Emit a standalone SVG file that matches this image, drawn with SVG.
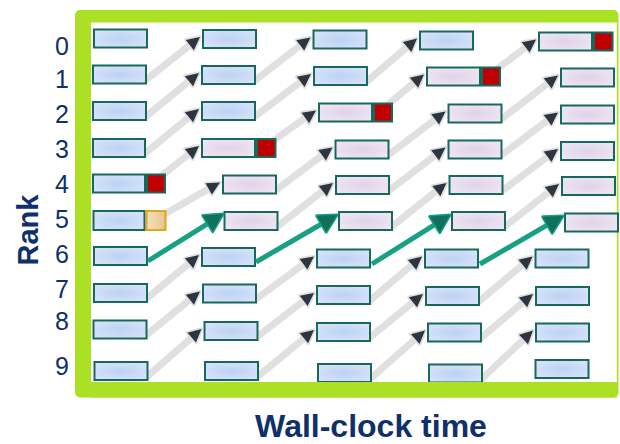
<svg xmlns="http://www.w3.org/2000/svg" width="620" height="444" viewBox="0 0 620 444">
<style>
.bl{fill:url(#gb);stroke:#17695c;stroke-width:2}
.pk{fill:url(#gp);stroke:#17695c;stroke-width:2}
.rd{fill:#c00000;stroke:#17695c;stroke-width:2}
.or{fill:url(#go);stroke:#e2a61a;stroke-width:2}
.g{fill:none;stroke:#e0e0e0;stroke-width:7;stroke-dasharray:86 100;marker-end:url(#ga)}
.t{fill:none;stroke:#17a084;stroke-width:5;stroke-dasharray:84 100;marker-end:url(#ta)}
.rk{font-family:"Liberation Sans",Arial,sans-serif;font-size:25px;fill:#10306b;text-anchor:middle}
.lb{font-family:"Liberation Sans",Arial,sans-serif;font-weight:bold;fill:#10306b;text-anchor:middle}
</style>
<defs>
<radialGradient id="gb" cx="0.5" cy="0.5" r="0.6"><stop offset="0" stop-color="#bcd3f2"/><stop offset="1" stop-color="#d7e2fb"/></radialGradient>
<radialGradient id="gp" cx="0.5" cy="0.5" r="0.6"><stop offset="0" stop-color="#e1d2e9"/><stop offset="1" stop-color="#eee6f3"/></radialGradient>
<linearGradient id="go" x1="0" y1="0" x2="1" y2="0"><stop offset="0" stop-color="#f5e0bd"/><stop offset="1" stop-color="#e6c48f"/></linearGradient>
<marker id="ga" markerUnits="userSpaceOnUse" viewBox="-18 -11 22 22" markerWidth="22" markerHeight="22" refX="0" refY="0" orient="auto" overflow="visible"><path d="M0,0 L-13,-6.5 L-13,6.5 Z" fill="#2d3540" stroke="#e0e0e0" stroke-width="3.5" stroke-linejoin="round" paint-order="stroke"/></marker>
<marker id="ta" markerUnits="userSpaceOnUse" viewBox="-24 -14 28 28" markerWidth="28" markerHeight="28" refX="0" refY="0" orient="auto" overflow="visible"><path d="M0,0 L-18,-9.5 L-18,9.5 Z" fill="#11705c" stroke="#17a084" stroke-width="3" stroke-linejoin="round" paint-order="stroke"/></marker>
</defs>

<g id="frame">
<rect x="75" y="10" width="543.5" height="387.5" rx="5" fill="#abe024"/>
<rect x="91" y="22.5" width="525.8" height="359.5" fill="#ffffff"/>
</g>

<g id="connectors">
<g id="gray-arrows">
<path class="g" pathLength="100" d="M144,81.5 L200,37"/>
<path class="g" pathLength="100" d="M144,118 L199,73"/>
<path class="g" pathLength="100" d="M143,155 L199,109"/>
<path class="g" pathLength="100" d="M143,190.5 L199,146"/>
<path class="g" pathLength="100" d="M142.5,226.5 L220,182.5"/>
<path class="g" pathLength="100" d="M145,300 L199,255"/>
<path class="g" pathLength="100" d="M144.5,336.5 L200,291.5"/>
<path class="g" pathLength="100" d="M145.5,378 L201.5,329"/>

<path class="g" pathLength="100" d="M253,82 L310.5,37.5"/>
<path class="g" pathLength="100" d="M253,118 L311,74"/>
<path class="g" pathLength="100" d="M253,155 L316,110.5"/>
<path class="g" pathLength="100" d="M274,191.5 L332.5,147.5"/>
<path class="g" pathLength="100" d="M275.5,228 L333,183"/>
<path class="g" pathLength="100" d="M254,300.5 L314,256.5"/>
<path class="g" pathLength="100" d="M255.5,338 L314,293"/>
<path class="g" pathLength="100" d="M256,378 L314,330"/>

<path class="g" pathLength="100" d="M365,83 L417,38.5"/>
<path class="g" pathLength="100" d="M370,119.5 L424,74.5"/>
<path class="g" pathLength="100" d="M386.5,156.5 L445.5,111.5"/>
<path class="g" pathLength="100" d="M387,192 L445.5,147.5"/>
<path class="g" pathLength="100" d="M390,228 L446.5,183"/>
<path class="g" pathLength="100" d="M368,302 L422,256.5"/>
<path class="g" pathLength="100" d="M368,339 L423,294"/>
<path class="g" pathLength="100" d="M369,380 L425,330.5"/>

<path class="g" pathLength="100" d="M478,83.5 L536,39.5"/>
<path class="g" pathLength="100" d="M499.5,120.5 L558,75.5"/>
<path class="g" pathLength="100" d="M499.5,156.5 L558,112.5"/>
<path class="g" pathLength="100" d="M500.5,192 L558,149"/>
<path class="g" pathLength="100" d="M503,228 L559,184"/>
<path class="g" pathLength="100" d="M477,303 L532.5,256.5"/>
<path class="g" pathLength="100" d="M479,339.5 L533,294"/>
<path class="g" pathLength="100" d="M480,380.5 L533,330.5"/>
</g>
</g>

<g id="nodes">
<g id="r0c0" transform="translate(93,28.5)"><rect class="bl" x="1" y="1" width="53" height="18"/></g>
<g id="r0c1" transform="translate(202,29)"><rect class="bl" x="1" y="1" width="53" height="18"/></g>
<g id="r0c2" transform="translate(312.5,29.5)"><rect class="bl" x="1" y="1" width="53" height="18"/></g>
<g id="r0c3" transform="translate(419,30.5)"><rect class="bl" x="1" y="1" width="53" height="18"/></g>
<g id="r0c4" transform="translate(538,31.5)"><rect class="pk" x="1" y="1" width="53" height="18"/><rect class="rd" x="56" y="1" width="18.5" height="18"/></g>

<g id="r1c0" transform="translate(92,64.5)"><rect class="bl" x="1" y="1" width="53" height="18"/></g>
<g id="r1c1" transform="translate(201,65)"><rect class="bl" x="1" y="1" width="53" height="18"/></g>
<g id="r1c2" transform="translate(313,66)"><rect class="bl" x="1" y="1" width="53" height="18"/></g>
<g id="r1c3" transform="translate(426,66.5)"><rect class="pk" x="1" y="1" width="53" height="18"/><rect class="rd" x="56" y="1" width="18" height="18"/></g>
<g id="r1c4" transform="translate(560,67.5)"><rect class="pk" x="1" y="1" width="53" height="18"/></g>

<g id="r2c0" transform="translate(92,101)"><rect class="bl" x="1" y="1" width="53" height="18"/></g>
<g id="r2c1" transform="translate(201,101)"><rect class="bl" x="1" y="1" width="53" height="18"/></g>
<g id="r2c2" transform="translate(318,102.5)"><rect class="pk" x="1" y="1" width="53" height="18"/><rect class="rd" x="56" y="1" width="18" height="18"/></g>
<g id="r2c3" transform="translate(447.5,103.5)"><rect class="pk" x="1" y="1" width="53" height="18"/></g>
<g id="r2c4" transform="translate(560,104.5)"><rect class="pk" x="1" y="1" width="53" height="18"/></g>

<g id="r3c0" transform="translate(92,138)"><rect class="bl" x="1" y="1" width="52" height="18"/></g>
<g id="r3c1" transform="translate(201,138)"><rect class="pk" x="1" y="1" width="53" height="18"/><rect class="rd" x="56" y="1" width="18.5" height="18"/></g>
<g id="r3c2" transform="translate(334.5,139.5)"><rect class="pk" x="1" y="1" width="53" height="18"/></g>
<g id="r3c3" transform="translate(447.5,139.5)"><rect class="pk" x="1" y="1" width="53" height="18"/></g>
<g id="r3c4" transform="translate(560,141)"><rect class="pk" x="1" y="1" width="53" height="18"/></g>

<g id="r4c0" transform="translate(92,173.5)"><rect class="bl" x="1" y="1" width="52" height="18"/><rect class="rd" x="55" y="1" width="18" height="18"/></g>
<g id="r4c1" transform="translate(222,174.5)"><rect class="pk" x="1" y="1" width="53" height="18"/></g>
<g id="r4c2" transform="translate(335,175)"><rect class="pk" x="1" y="1" width="53" height="18"/></g>
<g id="r4c3" transform="translate(448.5,175)"><rect class="pk" x="1" y="1" width="53" height="18"/></g>
<g id="r4c4" transform="translate(561,176)"><rect class="pk" x="1" y="1" width="53" height="18"/></g>

<g id="r5c0" transform="translate(92.5,210)"><rect class="bl" x="1" y="1" width="51" height="19"/><rect class="or" x="54" y="1" width="19" height="19"/></g>
<g id="r5c1" transform="translate(223.5,211)"><rect class="pk" x="1" y="1" width="53" height="18"/></g>
<g id="r5c2" transform="translate(338,211)"><rect class="pk" x="1" y="1" width="53" height="18"/></g>
<g id="r5c3" transform="translate(451,211)"><rect class="pk" x="1" y="1" width="53" height="18"/></g>
<g id="r5c4" transform="translate(564,212.5)"><rect class="pk" x="1" y="1" width="53" height="18"/></g>

<g id="r6c0" transform="translate(93,246)"><rect class="bl" x="1" y="1" width="53" height="18"/></g>
<g id="r6c1" transform="translate(201,247)"><rect class="bl" x="1" y="1" width="53" height="18"/></g>
<g id="r6c2" transform="translate(316,248.5)"><rect class="bl" x="1" y="1" width="53" height="18"/></g>
<g id="r6c3" transform="translate(424,248.5)"><rect class="bl" x="1" y="1" width="53" height="18"/></g>
<g id="r6c4" transform="translate(534.5,248.5)"><rect class="bl" x="1" y="1" width="53" height="18"/></g>

<g id="r7c0" transform="translate(93,283)"><rect class="bl" x="1" y="1" width="53" height="18"/></g>
<g id="r7c1" transform="translate(202,283.5)"><rect class="bl" x="1" y="1" width="53" height="18"/></g>
<g id="r7c2" transform="translate(316,285)"><rect class="bl" x="1" y="1" width="53" height="18"/></g>
<g id="r7c3" transform="translate(425,286)"><rect class="bl" x="1" y="1" width="53" height="18"/></g>
<g id="r7c4" transform="translate(535,286)"><rect class="bl" x="1" y="1" width="53" height="18"/></g>

<g id="r8c0" transform="translate(92.5,319.5)"><rect class="bl" x="1" y="1" width="53" height="18"/></g>
<g id="r8c1" transform="translate(203.5,321)"><rect class="bl" x="1" y="1" width="53" height="18"/></g>
<g id="r8c2" transform="translate(316,322)"><rect class="bl" x="1" y="1" width="53" height="18"/></g>
<g id="r8c3" transform="translate(427,322.5)"><rect class="bl" x="1" y="1" width="53" height="18"/></g>
<g id="r8c4" transform="translate(535,322.5)"><rect class="bl" x="1" y="1" width="53" height="18"/></g>

<g id="r9c0" transform="translate(93.5,361)"><rect class="bl" x="1" y="1" width="53" height="18"/></g>
<g id="r9c1" transform="translate(204,361)"><rect class="bl" x="1" y="1" width="53" height="18"/></g>
<g id="r9c2" transform="translate(317,363)"><rect class="bl" x="1" y="1" width="53" height="18"/></g>
<g id="r9c3" transform="translate(428,363.5)"><rect class="bl" x="1" y="1" width="53" height="18"/></g>
<g id="r9c4" transform="translate(534.5,359)"><rect class="bl" x="1" y="1" width="53" height="18"/></g>
</g>

<g id="critical-path">
<path class="t" pathLength="100" d="M148,261 L223,214"/>
<path class="t" pathLength="100" d="M256,262 L337,215"/>
<path class="t" pathLength="100" d="M372,264 L450,215"/>
<path class="t" pathLength="100" d="M480,264 L563,216"/>
</g>

<rect id="frame-bottom" x="91" y="382" width="525.8" height="15.5" fill="#abe024"/>

<g id="labels">
<text class="rk" x="62" y="55">0</text>
<text class="rk" x="62" y="88">1</text>
<text class="rk" x="62" y="123">2</text>
<text class="rk" x="62" y="158">3</text>
<text class="rk" x="62" y="193">4</text>
<text class="rk" x="62" y="228">5</text>
<text class="rk" x="62" y="263">6</text>
<text class="rk" x="62" y="298">7</text>
<text class="rk" x="62" y="330">8</text>
<text class="rk" x="62" y="375">9</text>
<text class="lb" font-size="29" transform="translate(38,230) rotate(-90)">Rank</text>
<text class="lb" font-size="32" x="371" y="437">Wall-clock time</text>
</g>
</svg>
